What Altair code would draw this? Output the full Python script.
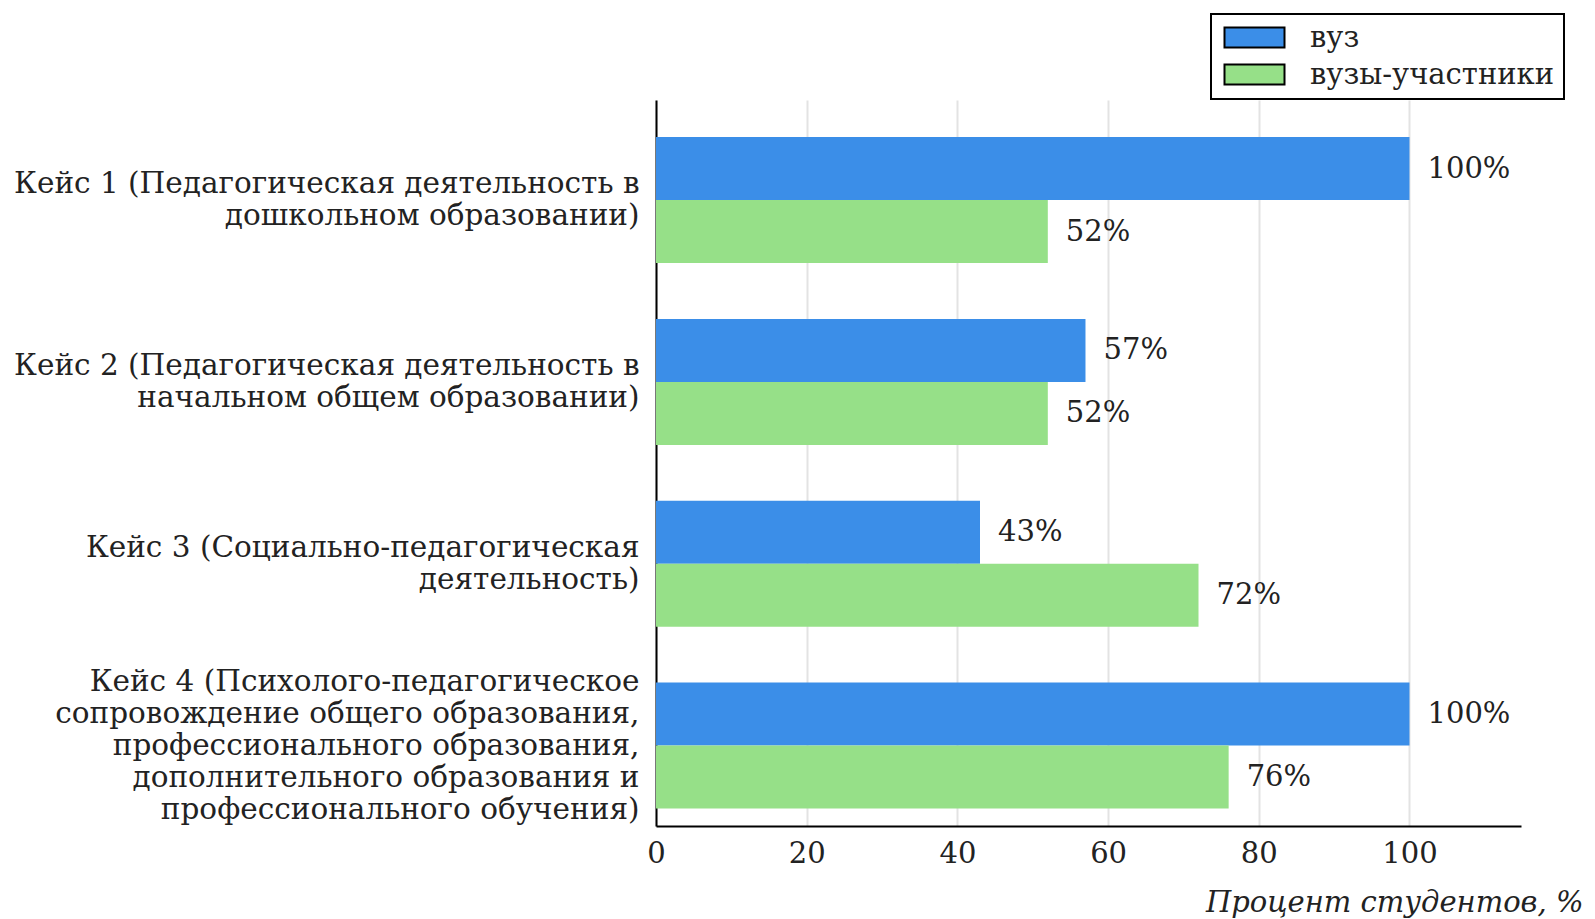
import altair as alt
import pandas as pd

categories = [
    "Кейс 1 (Педагогическая деятельность в\nдошкольном образовании)",
    "Кейс 2 (Педагогическая деятельность в\nначальном общем образовании)",
    "Кейс 3 (Социально-педагогическая\nдеятельность)",
    "Кейс 4 (Психолого-педагогическое\nсопровождение общего образования,\nпрофессионального образования,\nдополнительного образования и\nпрофессионального обучения)",
]
series = ["вуз", "вузы-участники"]
vuz = [100, 57, 43, 100]
participants = [52, 52, 72, 76]
colors = ["#3b8ee8", "#96e088"]
x_ticks = [0, 20, 40, 60, 80, 100]

rows = []
for c, v in zip(categories, vuz):
    rows.append({"case": c, "group": series[0], "value": v, "label": f"{v}%"})
for c, v in zip(categories, participants):
    rows.append({"case": c, "group": series[1], "value": v, "label": f"{v}%"})
df = pd.DataFrame(rows)

FONT = "DejaVu Serif"
FS = 29
LH = 32

# centre multi-line labels on their band
label_offset = {
    "condition": [
        {"test": "length(split(datum.value, '\\n')) == 5", "value": -2 * LH},
        {"test": "length(split(datum.value, '\\n')) == 2", "value": -LH / 2},
    ],
    "value": 0,
}

y_enc = alt.Y(
    "case:N",
    sort=categories,
    scale=alt.Scale(paddingInner=0.307, paddingOuter=0.15, align=0.68),
    axis=alt.Axis(
        title=None,
        labelExpr="split(datum.label, '\\n')",
        labelFont=FONT,
        labelFontSize=29.5,
        labelColor="#222222",
        labelLineHeight=LH,
        labelPadding=17,
        labelLimit=1000,
        labelOffset=label_offset,
        ticks=False,
        domainColor="black",
        domainWidth=2,
        grid=False,
    ),
)

x_enc = alt.X(
    "value:Q",
    scale=alt.Scale(domain=[0, 114.8], nice=False, zero=True),
    axis=alt.Axis(
        values=x_ticks,
        title="Процент студентов, %",
        titleFont=FONT,
        titleFontSize=FS,
        titleFontStyle="italic",
        titleFontWeight="normal",
        titleColor="#222222",
        titleAlign="right",
        titleBaseline="middle",
        titleX=927,
        titleY=76,
        labelFont=FONT,
        labelFontSize=FS,
        labelColor="#222222",
        labelPadding=13,
        labelFlush=False,
        labelOverlap=False,
        ticks=False,
        domainColor="black",
        domainWidth=2,
        grid=True,
        gridColor="#e3e3e3",
        gridWidth=2,
    ),
)

bars = alt.Chart(df).mark_bar().encode(
    x=x_enc,
    y=y_enc,
    yOffset=alt.YOffset("group:N", sort=series, scale=alt.Scale(paddingInner=0, paddingOuter=0)),
    fill=alt.Fill(
        "group:N",
        sort=series,
        scale=alt.Scale(domain=series, range=colors),
        legend=alt.Legend(
            title=None,
            orient="none",
            legendX=555,
            legendY=-86,
            labelFont=FONT,
            labelFontSize=FS,
            labelColor="#222222",
            labelOffset=61,
            symbolType="M-1,-1H5V1H-1Z",
            symbolSize=400,
            symbolStrokeColor="black",
            symbolStrokeWidth=2,
            rowPadding=7,
            padding=9,
            strokeColor="black",
            fillColor="white",
            labelLimit=1000,
        ),
    ),
)

texts = alt.Chart(df).mark_text(
    align="left", baseline="middle", dx=18, font=FONT, fontSize=FS, color="#222222"
).encode(
    x="value:Q",
    y=alt.Y("case:N", sort=categories),
    yOffset=alt.YOffset("group:N", sort=series),
    text="label:N",
)

chart = (
    alt.layer(bars, texts)
    .properties(
        width=865,
        height=726,
        background="white",
        padding={"left": 5, "top": 5, "right": 1, "bottom": 5},
    )
    .configure_view(stroke=None)
    .configure_legend(strokeWidth=2)
)

chart.save("out.html", embed_options={"renderer": "svg", "actions": False})
